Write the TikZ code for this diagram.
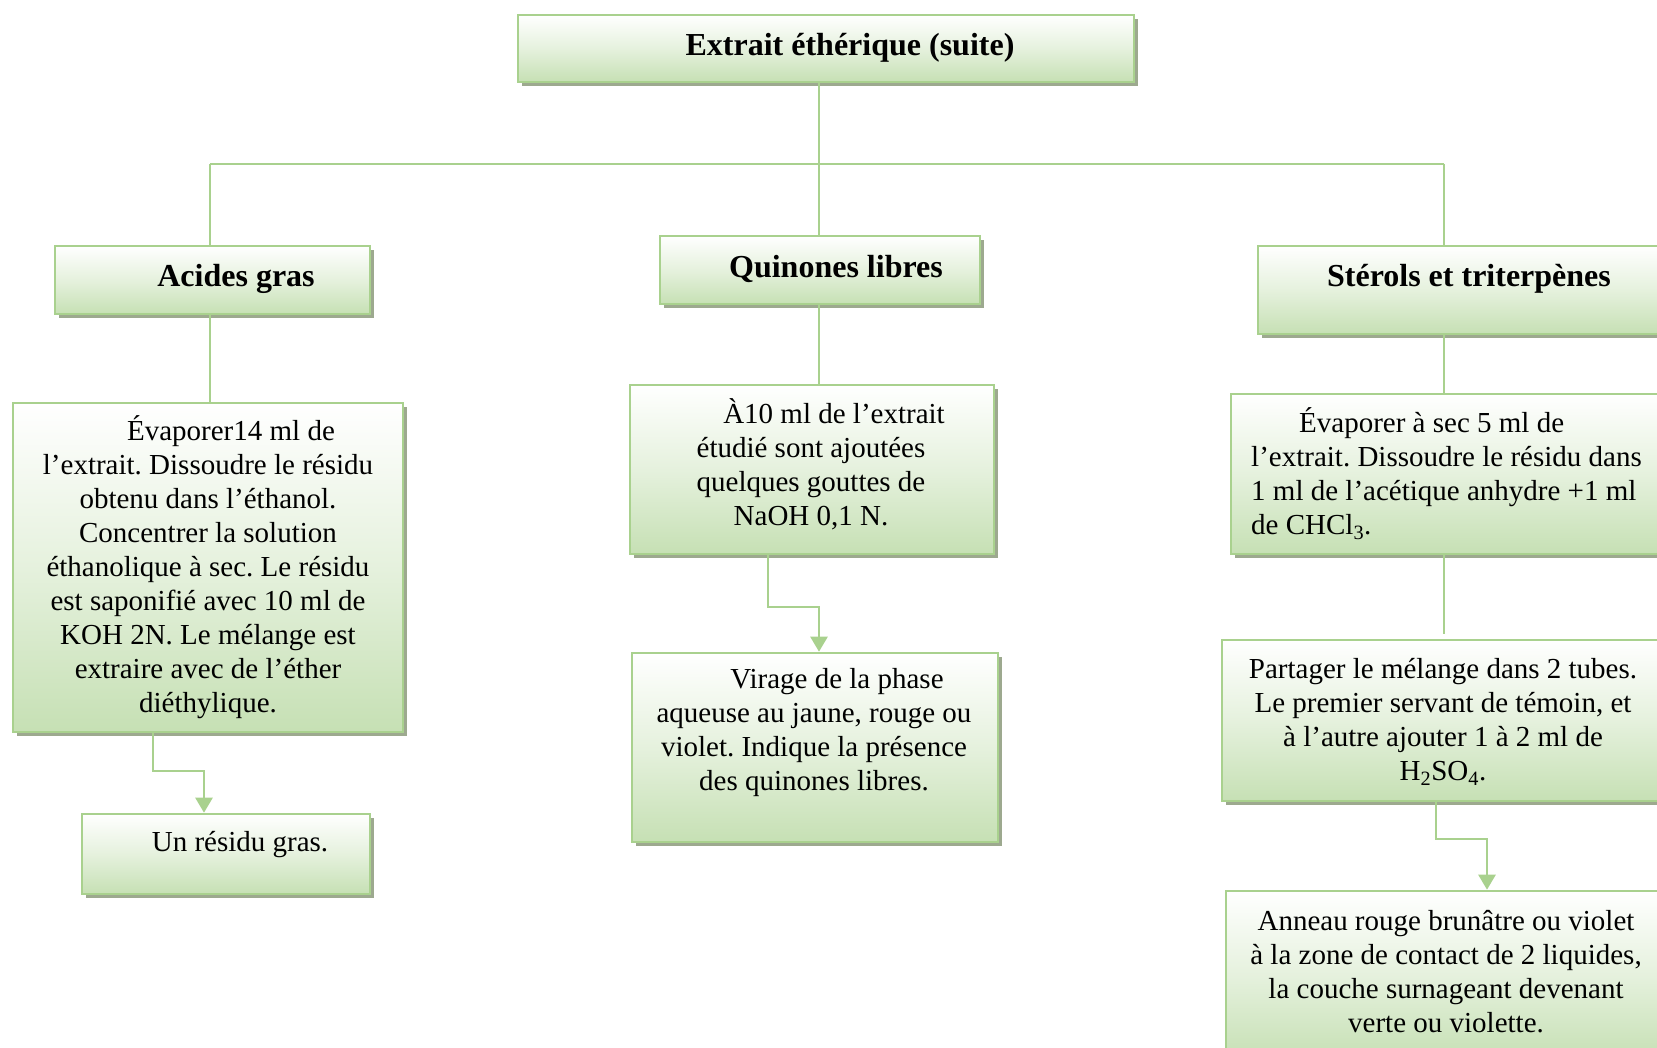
\documentclass[tikz,border=0pt]{standalone}
\usepackage{fontspec}
\setmainfont{Liberation Serif}
\usetikzlibrary{arrows.meta,shadows,calc}
\definecolor{boxline}{HTML}{A9D18E}
\definecolor{boxfill}{HTML}{C6E0B4}
\definecolor{boxshade}{HTML}{9DA98F}
\definecolor{linkgreen}{HTML}{A9D18E}

\tikzset{
  box/.style={rectangle, draw=boxline, line width=2.6pt, top color=white,
    bottom color=boxfill, middle color=boxfill!45,
    drop shadow={shadow xshift=4pt, shadow yshift=-4pt, fill=boxshade, opacity=1},
    inner sep=0pt},
  head/.style={inner sep=0pt, font=\fontsize{32}{38}\selectfont\bfseries},
  body/.style={inner sep=0pt, align=center, font=\fontsize{29}{34}\selectfont\frenchspacing},
  link/.style={draw=linkgreen, line width=2.6pt},
  arrowlink/.style={link, -{Triangle[width=17pt,length=15pt]}, color=linkgreen},
}

\begin{document}
\frenchspacing
\begin{tikzpicture}[x=1pt,y=-1pt]
\useasboundingbox (0,0) rectangle (1657,1048);
\clip (0,0) rectangle (1657,1048);

% boxes
\node[box, minimum width=616pt, minimum height=67pt] (top) at (826,48.5) {};
\node[box, minimum width=315pt, minimum height=68pt] (acides) at (212.5,280) {};
\node[box, minimum width=320pt, minimum height=68pt] (quin) at (820,270) {};
\node[box, minimum width=442pt, minimum height=88pt] (sterols) at (1479,290) {};
\node[box, minimum width=390pt, minimum height=329pt] (evapA) at (208,567.5) {};
\node[box, minimum width=288pt, minimum height=80pt] (residu) at (226,854) {};
\node[box, minimum width=364pt, minimum height=169pt] (naoh) at (812,469.5) {};
\node[box, minimum width=366pt, minimum height=189pt] (virage) at (815,747.5) {};
\node[box, minimum width=469pt, minimum height=160pt] (evapS) at (1465.5,474) {};
\node[box, minimum width=478pt, minimum height=161pt] (partager) at (1461,720.5) {};
\node[box, minimum width=474pt, minimum height=169pt] (anneau) at (1463,975.5) {};

% texts
\node[head] (ttop) at (850,48) {Extrait éthérique (suite)};
\node[head] (tacides) at (236,279) {Acides gras};
\node[head] (tquin) at (836,269) {Quinones libres};
\node[head] (tsterols) at (1469,279) {Stérols et triterpènes};

\node[body] (tevapA) at (208,567) {\hspace*{46pt}Évaporer14 ml de\\
  l’extrait. Dissoudre le résidu\\
  obtenu dans l’éthanol.\\
  Concentrer la solution\\
  éthanolique à sec. Le résidu\\
  est saponifié avec 10 ml de\\
  KOH 2N. Le mélange est\\
  extraire avec de l’éther\\
  diéthylique.};
\node[body] (tresidu) at (240,845) {Un résidu gras.};
\node[body] (tnaoh) at (811,464) {\hspace*{46pt}À10 ml de l’extrait\\
  étudié sont ajoutées\\
  quelques gouttes de\\
  NaOH 0,1 N.};
\node[body] (tvirage) at (814,733) {\hspace*{46pt}Virage de la phase\\
  aqueuse au jaune, rouge ou\\
  violet. Indique la présence\\
  des quinones libres.};
\node[body, align=left, anchor=west] (tevapS) at (1251,474) {\hspace*{48pt}Évaporer à sec 5 ml de\\
  l’extrait. Dissoudre le résidu dans\\
  1 ml de l’acétique anhydre +1 ml\\
  de CHCl\textsubscript{3}.};
\node[body] (tpartager) at (1443,722) {Partager le mélange dans 2 tubes.\\
  Le premier servant de témoin, et\\
  à l’autre ajouter 1 à 2 ml de\\
  H\textsubscript{2}SO\textsubscript{4}.};
\node[body] (tanneau) at (1446,972) {Anneau rouge brunâtre ou violet\\
  à la zone de contact de 2 liquides,\\
  la couche surnageant devenant\\
  verte ou violette.};

% tree connectors
\coordinate (jl) at (210,164);
\coordinate (jm) at (819,164);
\coordinate (jr) at (1444,164);
\draw[link] (top.south -| jm) -- (quin.north -| jm);
\draw[link] (jl) -- (jr);
\draw[link] (jl) -- (acides.north -| jl);
\draw[link] (jr) -- (sterols.north -| jr);

\draw[link] (acides.south -| jl) -- (evapA.north -| jl);
\draw[link] (quin.south -| jm) -- (naoh.north -| jm);
\draw[link] (sterols.south -| jr) -- (evapS.north -| jr);
\coordinate (pend) at (1444,634);
\draw[link] (evapS.south -| jr) -- (pend);

% elbow arrows
\draw[arrowlink] (evapA.south -| 153,0) |- (204,771) -- (residu.north -| 204,0);
\draw[arrowlink] (naoh.south -| 768,0) |- (819,607) -- (virage.north -| 819,0);
\draw[arrowlink] (partager.south -| 1436,0) |- (1487,839) -- (anneau.north -| 1487,0);
\end{tikzpicture}
\end{document}
